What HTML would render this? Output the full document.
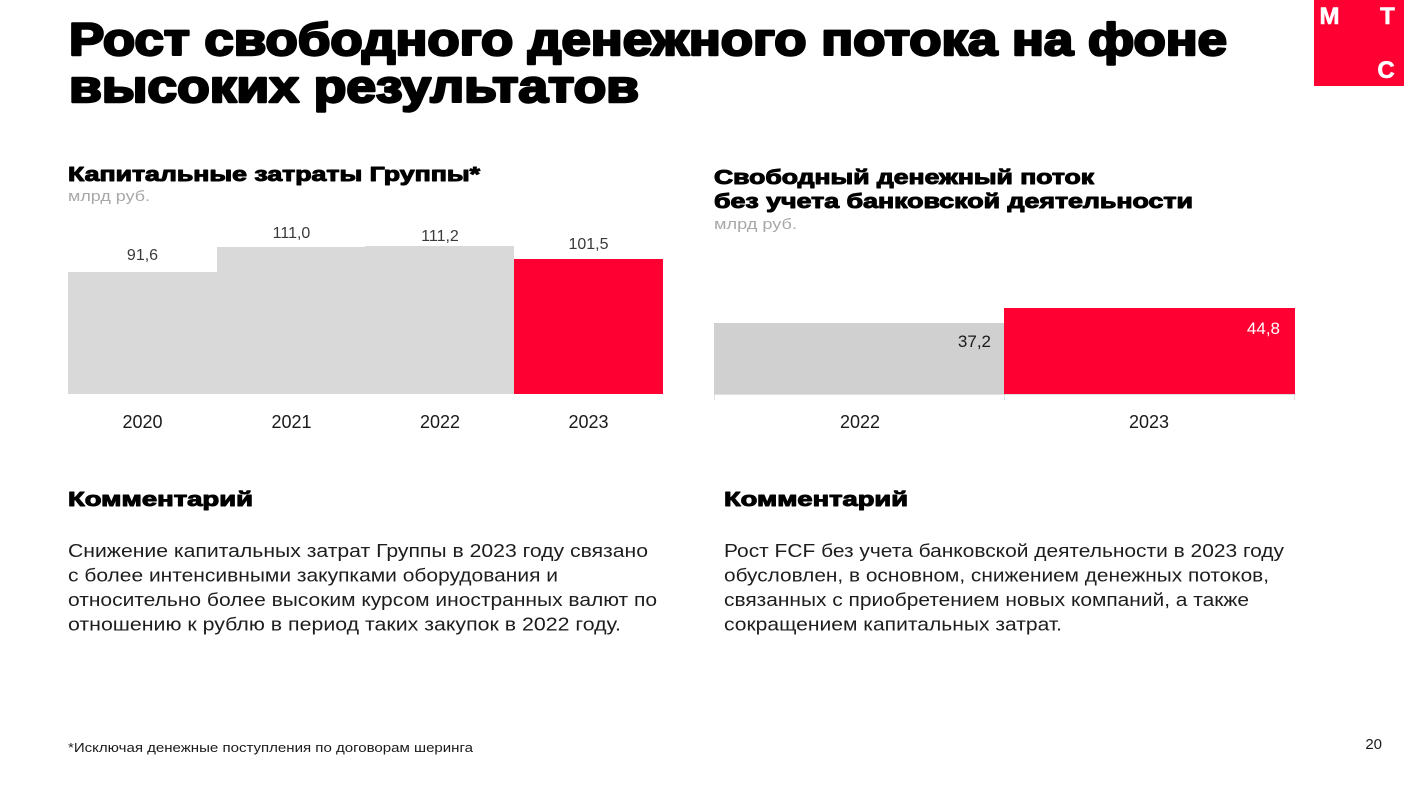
<!DOCTYPE html>
<html>
<head>
<meta charset="utf-8">
<style>
html,body{margin:0;padding:0;background:#fff;}
svg{display:block;}
text{font-family:"Liberation Sans","DejaVu Sans",sans-serif;}
.t{font-weight:bold;fill:#000;stroke:#000;stroke-linejoin:round;}
.b{fill:#1d1d1d;font-size:18px;}
</style>
</head>
<body>
<svg width="1404" height="787" viewBox="0 0 1404 787" xmlns="http://www.w3.org/2000/svg">
<rect x="0" y="0" width="1404" height="787" fill="#fff"/>

<!-- Title -->
<text class="t" x="69" y="55" font-size="45" stroke-width="2.4" textLength="1158" lengthAdjust="spacingAndGlyphs">Рост свободного денежного потока на фоне</text>
<text class="t" x="69" y="102" font-size="45" stroke-width="2.4" textLength="570" lengthAdjust="spacingAndGlyphs">высоких результатов</text>

<!-- Logo -->
<rect x="1314" y="0" width="90" height="86" fill="#ff0032"/>
<text x="1329.5" y="24" font-size="24" font-weight="bold" fill="#fff" text-anchor="middle" stroke="#fff" stroke-width="0.6">М</text>
<text x="1387.5" y="24" font-size="24" font-weight="bold" fill="#fff" text-anchor="middle" stroke="#fff" stroke-width="0.6">Т</text>
<text x="1386" y="78" font-size="24" font-weight="bold" fill="#fff" text-anchor="middle" stroke="#fff" stroke-width="0.6">С</text>

<!-- Left chart headings -->
<text class="t" x="68" y="181" font-size="20" stroke-width="1" textLength="412" lengthAdjust="spacingAndGlyphs">Капитальные затраты Группы*</text>
<text x="68" y="201" font-size="15" fill="#a8a8a8" textLength="82" lengthAdjust="spacingAndGlyphs">млрд руб.</text>

<!-- Left chart bars -->
<rect x="68" y="272" width="149" height="122" fill="#d9d9d9"/>
<rect x="217" y="247" width="148.5" height="147" fill="#d9d9d9"/>
<rect x="365" y="246" width="149" height="148" fill="#d9d9d9"/>
<rect x="514" y="259" width="149" height="135" fill="#ff0032"/>

<text x="142.5" y="260" font-size="16" fill="#3a3a3a" text-anchor="middle">91,6</text>
<text x="291.5" y="238" font-size="16" fill="#3a3a3a" text-anchor="middle">111,0</text>
<text x="440" y="241" font-size="16" fill="#3a3a3a" text-anchor="middle">111,2</text>
<text x="588.5" y="249" font-size="16" fill="#3a3a3a" text-anchor="middle">101,5</text>

<text x="142.5" y="428" font-size="18" fill="#1a1a1a" text-anchor="middle">2020</text>
<text x="291.5" y="428" font-size="18" fill="#1a1a1a" text-anchor="middle">2021</text>
<text x="440" y="428" font-size="18" fill="#1a1a1a" text-anchor="middle">2022</text>
<text x="588.5" y="428" font-size="18" fill="#1a1a1a" text-anchor="middle">2023</text>

<!-- Right chart headings -->
<text class="t" x="714" y="184" font-size="20" stroke-width="1" textLength="380" lengthAdjust="spacingAndGlyphs">Свободный денежный поток</text>
<text class="t" x="714" y="208" font-size="20" stroke-width="1" textLength="479" lengthAdjust="spacingAndGlyphs">без учета банковской деятельности</text>
<text x="714" y="229" font-size="15" fill="#a8a8a8" textLength="83" lengthAdjust="spacingAndGlyphs">млрд руб.</text>

<!-- Right chart -->
<line x1="714" y1="394.5" x2="1295" y2="394.5" stroke="#e0e0e0" stroke-width="1"/>
<line x1="714.5" y1="394" x2="714.5" y2="400" stroke="#e0e0e0" stroke-width="1"/>
<line x1="1004.5" y1="394" x2="1004.5" y2="400" stroke="#e0e0e0" stroke-width="1"/>
<line x1="1294.5" y1="394" x2="1294.5" y2="400" stroke="#e0e0e0" stroke-width="1"/>
<rect x="714" y="323" width="290" height="71" fill="#d0d0d0"/>
<rect x="1004" y="308" width="291" height="86" fill="#ff0032"/>
<text x="991" y="347" font-size="17" fill="#1a1a1a" text-anchor="end">37,2</text>
<text x="1280" y="334" font-size="17" fill="#fff" text-anchor="end">44,8</text>

<text x="860" y="428" font-size="18" fill="#1a1a1a" text-anchor="middle">2022</text>
<text x="1149" y="428" font-size="18" fill="#1a1a1a" text-anchor="middle">2023</text>

<!-- Comments left -->
<text class="t" x="68" y="506" font-size="20" stroke-width="1" textLength="185" lengthAdjust="spacingAndGlyphs">Комментарий</text>
<text class="b" x="68" y="557" textLength="580" lengthAdjust="spacingAndGlyphs">Снижение капитальных затрат Группы в 2023 году связано</text>
<text class="b" x="68" y="581.5" textLength="490" lengthAdjust="spacingAndGlyphs">с более интенсивными закупками оборудования и</text>
<text class="b" x="68" y="606" textLength="589" lengthAdjust="spacingAndGlyphs">относительно более высоким курсом иностранных валют по</text>
<text class="b" x="68" y="630.5" textLength="553" lengthAdjust="spacingAndGlyphs">отношению к рублю в период таких закупок в 2022 году.</text>

<!-- Comments right -->
<text class="t" x="724" y="506" font-size="20" stroke-width="1" textLength="184" lengthAdjust="spacingAndGlyphs">Комментарий</text>
<text class="b" x="724" y="557" textLength="560" lengthAdjust="spacingAndGlyphs">Рост FCF без учета банковской деятельности в 2023 году</text>
<text class="b" x="724" y="581.5" textLength="545" lengthAdjust="spacingAndGlyphs">обусловлен, в основном, снижением денежных потоков,</text>
<text class="b" x="724" y="606" textLength="525" lengthAdjust="spacingAndGlyphs">связанных с приобретением новых компаний, а также</text>
<text class="b" x="724" y="630.5" textLength="338" lengthAdjust="spacingAndGlyphs">сокращением капитальных затрат.</text>

<!-- Footnote -->
<text x="68" y="752" font-size="13" fill="#1a1a1a" textLength="405" lengthAdjust="spacingAndGlyphs">*Исключая денежные поступления по договорам шеринга</text>
<text x="1382" y="749" font-size="15" fill="#1a1a1a" text-anchor="end">20</text>
</svg>
</body>
</html>
